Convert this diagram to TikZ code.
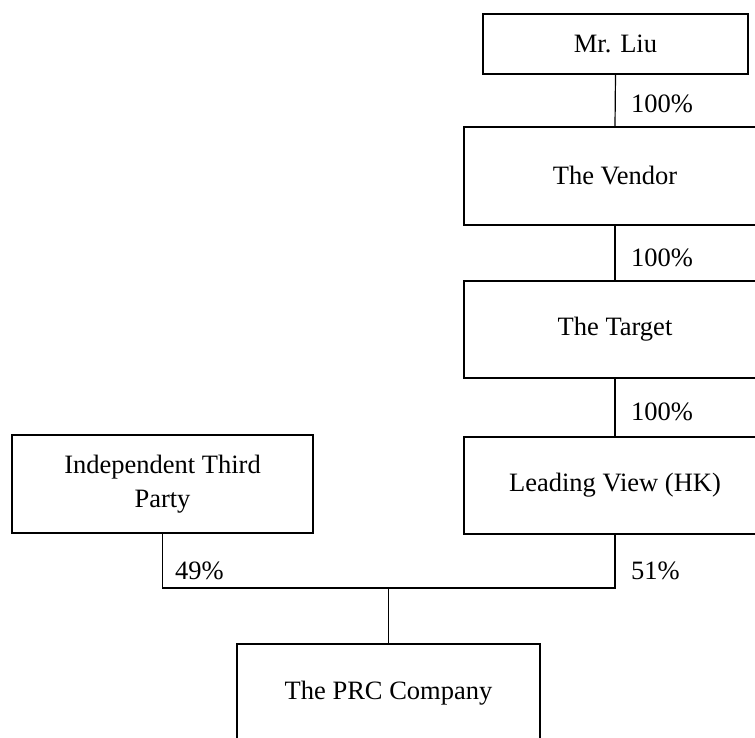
\documentclass[tikz,border=0pt]{standalone}
\usepackage{fontspec}
\setmainfont{Liberation Serif}
\begin{document}
\begin{tikzpicture}[x=1pt,y=-1pt,
  box/.style={draw,line width=1.2pt,rectangle,inner sep=0pt,align=center,font=\fontsize{26.5}{34}\selectfont},
  pct/.style={anchor=west,inner sep=0pt,font=\fontsize{26.5}{34}\selectfont},
  link/.style={draw,line width=1.2pt}]
\useasboundingbox (0,0) rectangle (755,738);
\clip (0,0) rectangle (755,738);
\node[box,minimum width=265pt,minimum height=60pt] (liu) at (615.5,44) {\raisebox{-2pt}{Mr. Liu}};
\node[box,minimum width=302pt,minimum height=98pt] (vendor) at (615,176) {\raisebox{-4pt}{The Vendor}};
\node[box,minimum width=302pt,minimum height=97pt] (target) at (615,329.5) {\raisebox{-2pt}{The Target}};
\node[box,minimum width=302pt,minimum height=97pt] (lv) at (615,485.5) {\raisebox{-3pt}{Leading View (HK)}};
\node[box,minimum width=301pt,minimum height=98pt] (itp) at (162.5,484) {Independent Third\\Party};
\node[box,minimum width=303pt,minimum height=98pt] (prc) at (388.5,693) {\raisebox{-2pt}{The PRC Company}};
\coordinate (j) at (388.5,588);
\draw[link] (liu.south) -- (vendor.north);
\draw[link] (vendor.south) -- (target.north);
\draw[link] (target.south) -- (lv.north);
\draw[link] (itp.south) |- (j) -| (lv.south);
\draw[link] (j) -- (prc.north);
\node[pct] (p1) at (631,104) {100\%};
\node[pct] (p2) at (631,258) {100\%};
\node[pct] (p3) at (631,412) {100\%};
\node[pct] (p4) at (631,571) {51\%};
\node[pct] (p5) at (175,571) {49\%};
\end{tikzpicture}
\end{document}
